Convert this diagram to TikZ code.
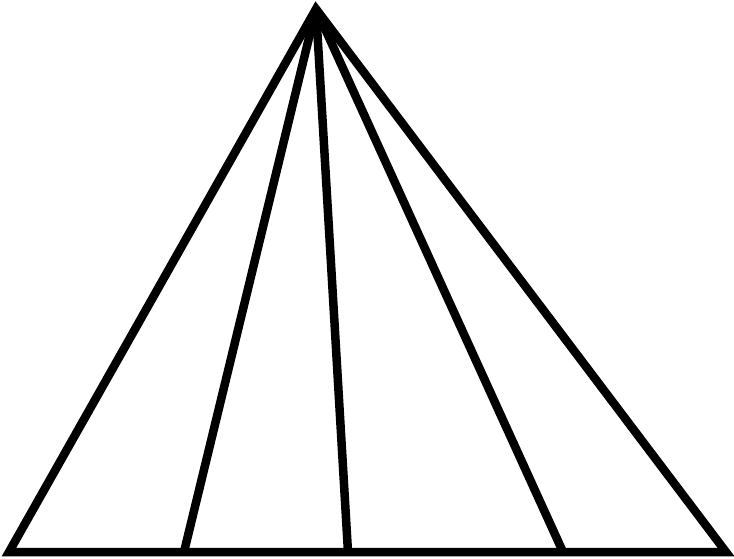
\documentclass[tikz,border=0pt]{standalone}
\usepackage{tikz}
\usetikzlibrary{calc}
\tikzstyle{side} = [line width=8.5pt, line join=miter, draw=black]
\tikzstyle{cut} = [line width=8.5pt, draw=black]

\begin{document}
\begin{tikzpicture}[x=1pt, y=1pt]
            \useasboundingbox (0,0) rectangle (734,558);
            % The corners
            \coordinate (apex) at (316,549);
            \coordinate (left) at (9,6);
            \coordinate (right) at (726,6);
            % The feet on the base
            \coordinate (foot_a) at (184,6);
            \coordinate (foot_b) at (348,6);
            \coordinate (foot_c) at (563,6);

            % The outline
            \draw[side] (apex) -- (left) -- (right) -- cycle;

            % The inner lines
            \draw[cut] (apex) -- (foot_a);
            \draw[cut] (apex) -- (foot_b);
            \draw[cut] (apex) -- (foot_c);
        \end{tikzpicture}
\end{document}
